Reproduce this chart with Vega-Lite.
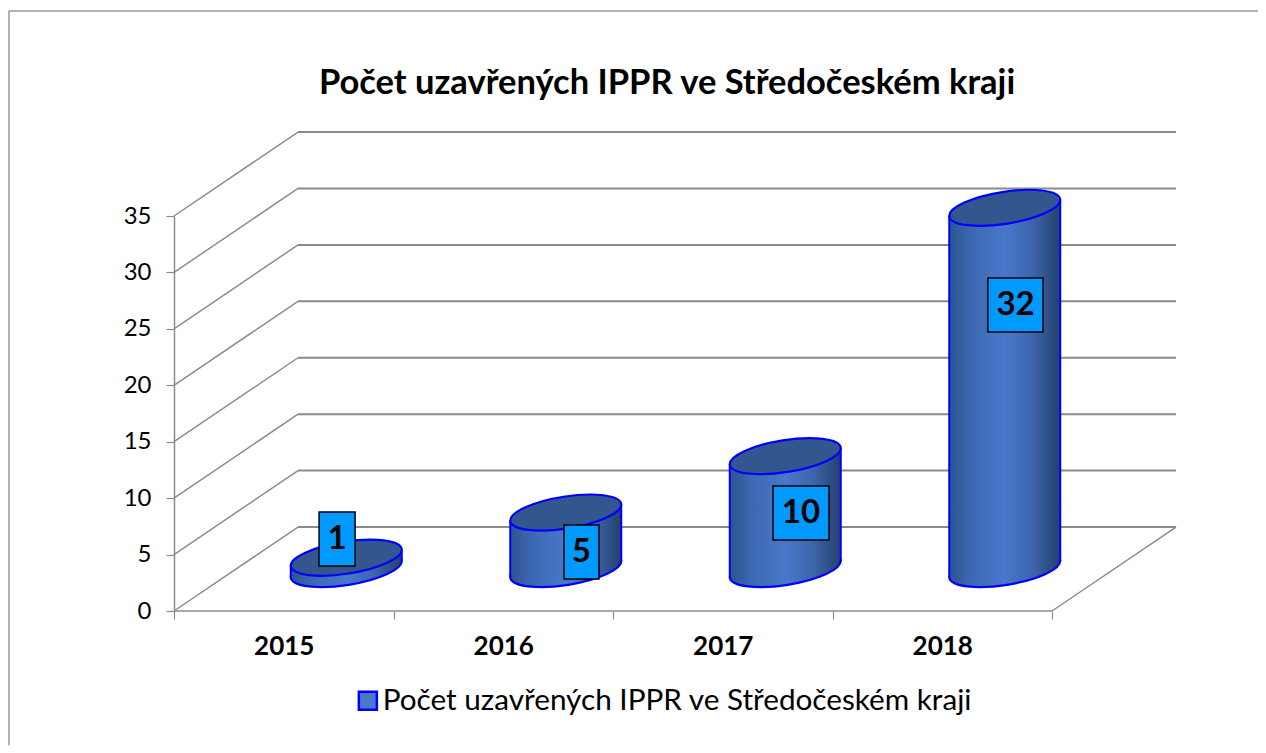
{"$schema":"https://vega.github.io/schema/vega-lite/v6.json","width":878,"height":395,"autosize":{"type":"none"},"padding":{"left":174,"top":216,"right":214,"bottom":142},"background":"white","config":{"view":{"stroke":null}},"title":{"text":"Počet uzavřených IPPR ve Středočeském kraji","font":"Lato","fontSize":34.5,"fontWeight":"bold","color":"#000000","anchor":"middle","dx":54,"offset":-91},"datasets":{"walls":[{"x":-0.752,"x2":4.938,"y":53.16,"y2":53.16,"kind":"frame"},{"x":-0.752,"x2":-0.752,"y":53.16,"y2":-11.9,"kind":"frame"},{"x":0,"x2":4,"y":0,"y2":0,"kind":"wall"},{"x":0,"x2":0.565,"y":0,"y2":7.44,"kind":"wall"},{"x":0,"x2":0.565,"y":5,"y2":12.44,"kind":"wall"},{"x":0,"x2":0.565,"y":10,"y2":17.44,"kind":"wall"},{"x":0,"x2":0.565,"y":15,"y2":22.44,"kind":"wall"},{"x":0,"x2":0.565,"y":20,"y2":27.44,"kind":"wall"},{"x":0,"x2":0.565,"y":25,"y2":32.44,"kind":"wall"},{"x":0,"x2":0.565,"y":30,"y2":37.44,"kind":"wall"},{"x":0,"x2":0.565,"y":35,"y2":42.44,"kind":"wall"},{"x":4,"x2":4.565,"y":0,"y2":7.44,"kind":"wall"}],"grid":[{"v":7.44},{"v":12.44},{"v":17.44},{"v":22.44},{"v":27.44},{"v":32.44},{"v":37.44},{"v":42.44}],"bars":[{"year":"2015","value":1,"series":"Počet uzavřených IPPR ve Středočeském kraji"},{"year":"2016","value":5,"series":"Počet uzavřených IPPR ve Středočeském kraji"},{"year":"2017","value":10,"series":"Počet uzavřených IPPR ve Středočeském kraji"},{"year":"2018","value":32,"series":"Počet uzavřených IPPR ve Středočeském kraji"}],"labels":[{"label":"1","x0":0.661,"x1":0.825,"y0":3.99,"y1":8.77,"cx":0.743,"cy":6.38},{"label":"5","x0":1.777,"x1":1.936,"y0":2.84,"y1":7.62,"cx":1.856,"cy":5.23},{"label":"10","x0":2.729,"x1":2.984,"y0":6.29,"y1":11.08,"cx":2.856,"cy":8.68},{"label":"32","x0":3.708,"x1":3.959,"y0":24.72,"y1":29.51,"cx":3.834,"cy":27.1}]},"resolve":{"scale":{"x":"independent"},"axis":{"x":"independent"}},"layer":[{"layer":[{"data":{"name":"walls"},"transform":[{"filter":"datum.kind==='frame'"}],"mark":{"type":"rule","stroke":"#9a9a9a","strokeWidth":1.5},"encoding":{"x":{"field":"x","type":"quantitative","scale":{"domain":[0,4],"nice":false,"zero":false},"axis":null},"x2":{"field":"x2"},"y":{"field":"y","type":"quantitative","scale":{"domain":[0,35],"nice":false},"axis":{"values":[0,5,10,15,20,25,30,35],"title":null,"grid":false,"domainColor":"#8c8c8c","domainWidth":1.5,"tickColor":"#8c8c8c","tickWidth":1.2,"tickSize":8,"labelFont":"Lato","labelFontSize":24,"labelColor":"#000000","labelPadding":15}},"y2":{"field":"y2"}}},{"data":{"name":"walls"},"transform":[{"filter":"datum.kind==='wall'"}],"mark":{"type":"rule","stroke":"#8c8c8c","strokeWidth":1.5},"encoding":{"x":{"field":"x","type":"quantitative"},"x2":{"field":"x2"},"y":{"field":"y","type":"quantitative"},"y2":{"field":"y2"}}},{"data":{"name":"grid"},"mark":{"type":"rule","stroke":"#8a8a8a","strokeWidth":2},"encoding":{"x":{"datum":0.565,"type":"quantitative"},"x2":{"datum":4.565},"y":{"field":"v","type":"quantitative"}}}]},{"data":{"name":"bars"},"layer":[{"mark":{"type":"point","filled":true,"shape":"M0.9879,-0.1552 C1.0123,0.0003 0.5898,0.1959 0.0442,0.2816 C-0.5014,0.3673 -0.9635,0.3107 -0.9879,0.1552 C-1.0123,-0.0003 -0.5898,-0.1959 -0.0442,-0.2816 C0.5014,-0.3673 0.9635,-0.3107 0.9879,-0.1552 Z","size":12588,"opacity":1,"xOffset":62.5,"yOffset":-42,"stroke":"#0000ff","strokeWidth":2.2,"fill":{"x1":0,"y1":0,"x2":1,"y2":0,"gradient":"linear","stops":[{"offset":0,"color":"#2e5390"},{"offset":0.2,"color":"#3d68b2"},{"offset":0.5,"color":"#4878cc"},{"offset":0.75,"color":"#3d65ad"},{"offset":0.9,"color":"#2e4f85"},{"offset":1,"color":"#23406c"}]}},"encoding":{"x":{"field":"year","type":"nominal","scale":{"type":"band","paddingInner":0,"paddingOuter":0},"axis":{"orient":"bottom","title":null,"labelAngle":0,"grid":false,"domain":false,"tickColor":"#8c8c8c","tickWidth":1.2,"tickSize":8,"tickBand":"extent","labelFont":"Lato","labelFontSize":26,"labelFontWeight":"bold","labelColor":"#000000","labelPadding":14}},"y":{"datum":0,"type":"quantitative"}}},{"mark":{"type":"bar","xOffset":35.1,"yOffset":-34,"y2Offset":-34,"width":{"band":0.256},"fill":{"x1":0,"y1":0,"x2":1,"y2":0,"gradient":"linear","stops":[{"offset":0,"color":"#2e5390"},{"offset":0.4,"color":"#3d68b2"},{"offset":1,"color":"#4878cc"}]}},"encoding":{"x":{"field":"year","type":"nominal"},"y":{"field":"value","type":"quantitative"}}},{"mark":{"type":"bar","xOffset":90.25,"yOffset":-50,"y2Offset":-50,"width":{"band":0.2528},"fill":{"x1":0,"y1":0,"x2":1,"y2":0,"gradient":"linear","stops":[{"offset":0,"color":"#4878cc"},{"offset":0.5,"color":"#3d65ad"},{"offset":0.8,"color":"#2e4f85"},{"offset":1,"color":"#23406c"}]}},"encoding":{"x":{"field":"year","type":"nominal"},"y":{"field":"value","type":"quantitative"}}},{"mark":{"type":"rule","xOffset":7,"yOffset":-34,"y2Offset":-34,"strokeWidth":2},"encoding":{"x":{"field":"year","type":"nominal"},"y":{"field":"value","type":"quantitative"},"y2":{"datum":0},"stroke":{"field":"series","type":"nominal","scale":{"range":["#0000ff"]},"legend":{"title":null,"orient":"none","legendX":179,"legendY":470,"padding":0,"symbolType":"square","symbolSize":324,"symbolFillColor":"#4a78cc","symbolStrokeColor":"#0000ff","symbolStrokeWidth":2.5,"labelFont":"Lato","labelFontSize":29.7,"labelColor":"#000000","labelOffset":0,"labelLimit":800}}}},{"mark":{"type":"rule","xOffset":118,"yOffset":-50,"y2Offset":-50,"strokeWidth":2,"stroke":"#0000ff"},"encoding":{"x":{"field":"year","type":"nominal"},"y":{"field":"value","type":"quantitative"},"y2":{"datum":0}}},{"mark":{"type":"point","filled":true,"opacity":1,"shape":"M0.9879,-0.1552 C1.0123,0.0003 0.5898,0.1959 0.0442,0.2816 C-0.5014,0.3673 -0.9635,0.3107 -0.9879,0.1552 C-1.0123,-0.0003 -0.5898,-0.1959 -0.0442,-0.2816 C0.5014,-0.3673 0.9635,-0.3107 0.9879,-0.1552 Z","size":12588,"xOffset":62.5,"yOffset":-42,"stroke":"#0000ff","strokeWidth":2.2,"fill":"#34568f"},"encoding":{"x":{"field":"year","type":"nominal"},"y":{"field":"value","type":"quantitative"}}}]},{"data":{"name":"labels"},"layer":[{"mark":{"type":"rect","fill":"#0099ff","stroke":"#000000","strokeWidth":1.5},"encoding":{"x":{"field":"x0","type":"quantitative","scale":{"domain":[0,4],"nice":false,"zero":false},"axis":null},"x2":{"field":"x1"},"y":{"field":"y0","type":"quantitative"},"y2":{"field":"y1"}}},{"mark":{"type":"text","font":"Lato","fontSize":33,"fontWeight":"bold","color":"#000000","align":"center","baseline":"middle"},"encoding":{"x":{"field":"cx","type":"quantitative"},"y":{"field":"cy","type":"quantitative"},"text":{"field":"label"}}}]}]}
